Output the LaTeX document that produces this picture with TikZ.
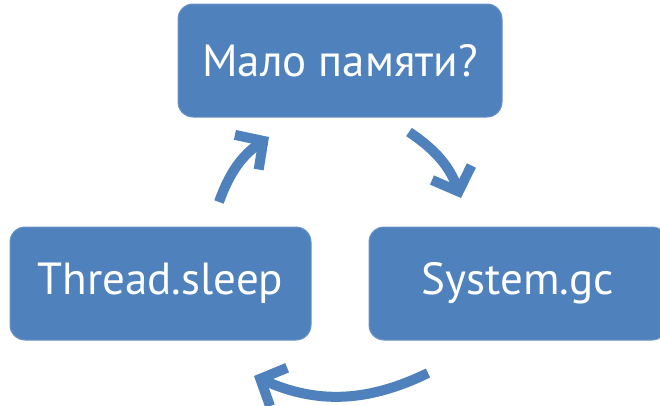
\documentclass[tikz,border=0pt]{standalone}
\usepackage{fontspec}
\setmainfont{PT Sans}
\usetikzlibrary{arrows.meta}
\definecolor{boxblue}{HTML}{4F81BD}
\begin{document}
\begin{tikzpicture}[x=1pt,y=-1pt,
  stepbox/.style={fill=boxblue,draw=boxblue!85!white,line width=1pt,rounded corners=15pt,
    minimum height=113pt,text=white,font=\fontsize{45}{52}\selectfont,inner sep=0pt},
  flow/.style={draw=boxblue,line width=10pt,-{Straight Barb[length=20pt,width=42pt]}}]
\useasboundingbox (0,0) rectangle (660,405);
\node[stepbox,minimum width=324pt] (mem) at (340,60.5) {Мало памяти?};
\node[stepbox,minimum width=301pt] (sleep) at (160.5,283.5) {Thread.sleep};
\node[stepbox,minimum width=298pt] (gc) at (518,283.5) {System.gc};
\coordinate (a1s) at (219,202);
\coordinate (a1e) at (269,137);
\coordinate (a2s) at (409,132);
\coordinate (a2e) at (461,198);
\coordinate (a3s) at (428,373);
\coordinate (a3e) at (254,376);
\draw[flow] (a1s) to[bend left=18] (a1e);
\draw[flow] (a2s) to[bend left=18] (a2e);
\draw[flow] (a3s) to[bend left=25] (a3e);
\end{tikzpicture}
\end{document}
